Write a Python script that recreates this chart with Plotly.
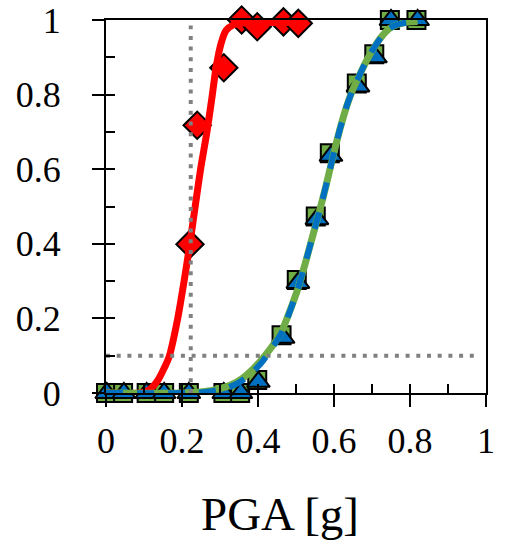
import plotly.graph_objects as go

# Fragility data: probability of exceedance vs PGA [g]
# Red set (observed points and fitted curve)
red_pts_x = [0.221, 0.240, 0.310, 0.357, 0.398, 0.467, 0.506]
red_pts_y = [0.399, 0.718, 0.872, 1.000, 0.982, 0.995, 0.991]
red_fit_x = [0.0, 0.09, 0.115, 0.137, 0.166, 0.188, 0.206, 0.221, 0.237, 0.250,
             0.265, 0.278, 0.290, 0.303, 0.316, 0.335, 0.361, 0.430, 0.510]
red_fit_y = [0.0, 0.0, 0.010, 0.035, 0.097, 0.196, 0.303, 0.401, 0.517, 0.607,
             0.696, 0.786, 0.875, 0.938, 0.972, 0.987, 0.992, 0.993, 0.993]

# Green set (squares and solid fitted curve)
green_pts_x = [0.0, 0.045, 0.107, 0.153, 0.218, 0.309, 0.353, 0.398, 0.462, 0.502,
               0.552, 0.589, 0.660, 0.706, 0.747, 0.817]
green_pts_y = [0.0, 0.0, 0.0, 0.0, 0.0, 0.0, 0.0, 0.035, 0.155, 0.303,
               0.473, 0.643, 0.830, 0.908, 1.000, 1.000]
green_fit_x = [0.0, 0.20, 0.26, 0.30, 0.33, 0.36, 0.385, 0.41, 0.435, 0.46, 0.48,
               0.505, 0.525, 0.545, 0.565, 0.58, 0.60, 0.615, 0.633, 0.65, 0.667,
               0.685, 0.703, 0.725, 0.747, 0.775, 0.80, 0.82]
green_fit_y = [0.0, 0.0, 0.004, 0.012, 0.022, 0.040, 0.062, 0.090, 0.122, 0.160, 0.210,
               0.280, 0.350, 0.425, 0.500, 0.560, 0.645, 0.705, 0.768, 0.815, 0.852,
               0.890, 0.922, 0.955, 0.978, 0.990, 0.995, 0.996]

# Blue set (triangles and dashed fitted curve)
blue_pts_x = [0.002, 0.047, 0.107, 0.153, 0.218, 0.310, 0.355, 0.401, 0.466, 0.505,
              0.555, 0.592, 0.663, 0.709, 0.750, 0.820]
blue_pts_y = [0.0, 0.0, 0.0, 0.0, 0.0, 0.0, 0.0, 0.030, 0.148, 0.295,
              0.466, 0.636, 0.822, 0.900, 1.000, 1.000]
blue_fit_x = [0.0, 0.22, 0.28, 0.32, 0.35, 0.38, 0.41, 0.435, 0.46, 0.48,
              0.505, 0.525, 0.545, 0.565, 0.58, 0.60, 0.615, 0.633, 0.65, 0.667,
              0.685, 0.703, 0.725, 0.747, 0.775, 0.80, 0.815]
blue_fit_y = [0.0, 0.0, 0.005, 0.014, 0.028, 0.050, 0.082, 0.118, 0.158, 0.208,
              0.280, 0.350, 0.425, 0.500, 0.560, 0.645, 0.705, 0.768, 0.815, 0.852,
              0.890, 0.922, 0.955, 0.978, 0.990, 0.994, 0.995]

# Reference lines
ref_pga = 0.223
ref_prob = 0.1
ref_end = 0.985

x_ticks = [0, 0.2, 0.4, 0.6, 0.8, 1]
y_ticks = [0, 0.2, 0.4, 0.6, 0.8, 1]

RED = "#FF0000"
GREEN = "#70AD47"
BLUE = "#0070C0"
GRAY = "#808080"
SERIF = "Liberation Serif"

fig = go.Figure()

# markers underneath the curves
fig.add_trace(go.Scatter(x=red_pts_x, y=red_pts_y, mode="markers", cliponaxis=False,
                         marker=dict(symbol="diamond", size=21, color=RED,
                                     line=dict(color="black", width=2))))
fig.add_trace(go.Scatter(x=green_pts_x, y=green_pts_y, mode="markers", cliponaxis=False,
                         marker=dict(symbol="square", size=18, color=GREEN,
                                     line=dict(color="black", width=2))))
fig.add_trace(go.Scatter(x=blue_pts_x, y=blue_pts_y, mode="markers", cliponaxis=False,
                         marker=dict(symbol="triangle-up", size=20, color=BLUE,
                                     line=dict(color="black", width=2))))

# fitted curves
fig.add_trace(go.Scatter(x=red_fit_x, y=red_fit_y, mode="lines", cliponaxis=False,
                         line=dict(color=RED, width=7, shape="spline", smoothing=0.6)))
fig.add_trace(go.Scatter(x=green_fit_x, y=green_fit_y, mode="lines", cliponaxis=False,
                         line=dict(color=GREEN, width=7, shape="spline", smoothing=0.6)))
fig.add_trace(go.Scatter(x=blue_fit_x, y=blue_fit_y, mode="lines", cliponaxis=False,
                         line=dict(color=BLUE, width=6, shape="spline", smoothing=0.6,
                                   dash="17px,14px")))

# dotted guide lines
fig.add_trace(go.Scatter(x=[ref_pga, ref_pga], y=[0, ref_end], mode="lines",
                         line=dict(color=GRAY, width=4, dash="4px,6.7px")))
fig.add_trace(go.Scatter(x=[0, ref_end], y=[ref_prob, ref_prob], mode="lines",
                         line=dict(color=GRAY, width=4, dash="4px,6.7px")))

axis_common = dict(range=[0, 1], showgrid=False, zeroline=False, fixedrange=True,
                   automargin=False)

fig.update_layout(
    width=518, height=546,
    margin=dict(l=106, r=32, t=20, b=153),
    paper_bgcolor="white", plot_bgcolor="white",
    showlegend=False,
    font=dict(family=SERIF, color="black"),
    xaxis=dict(**axis_common, tickvals=x_ticks, ticktext=[f"{v:g}" for v in x_ticks],
               ticks="outside", ticklen=12, tickwidth=2, tickcolor="black",
               showline=True, linewidth=2, linecolor="black", mirror=True,
               tickfont=dict(family=SERIF, size=36, color="black"), ticklabelstandoff=3),
    yaxis=dict(**axis_common, tickvals=y_ticks, ticktext=[f"{v:g}" for v in y_ticks],
               ticks="outside", ticklen=12, tickwidth=2, tickcolor="black",
               showline=True, linewidth=2, linecolor="black", mirror=True,
               tickfont=dict(family=SERIF, size=36, color="black"), ticklabelstandoff=24),
    # inner tick marks every 0.1
    xaxis2=dict(**axis_common, overlaying="x", anchor="y", side="bottom", dtick=0.1,
                tick0=0, ticks="inside", ticklen=9, tickwidth=2, tickcolor="black",
                showticklabels=False, showline=False),
    yaxis2=dict(**axis_common, overlaying="y", anchor="x", side="left", dtick=0.1,
                tick0=0, ticks="inside", ticklen=9, tickwidth=2, tickcolor="black",
                showticklabels=False, showline=False),
    annotations=[dict(text="PGA [g]", xref="paper", yref="paper", x=0.458, y=-0.325,
                      xanchor="center", yanchor="middle", showarrow=False,
                      font=dict(family=SERIF, size=47, color="black"))],
)

# a dummy trace binds the secondary axes so their ticks get drawn
fig.add_trace(go.Scatter(x=[None], y=[None], xaxis="x2", yaxis="y2", showlegend=False,
                         hoverinfo="skip"))

fig.write_html("out.html")
